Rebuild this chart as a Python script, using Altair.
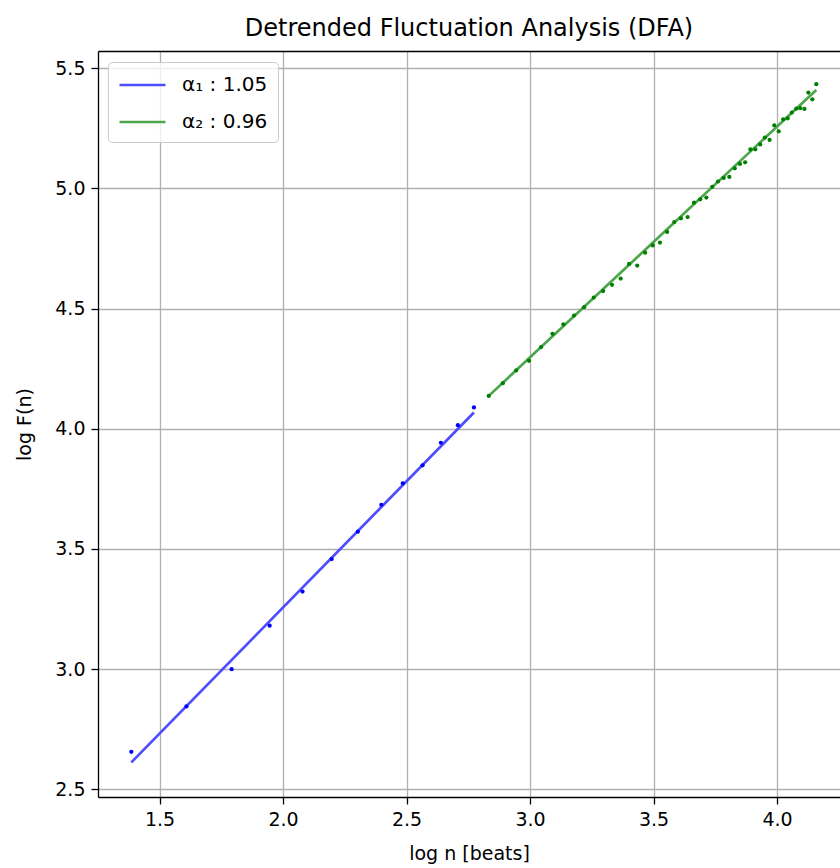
import altair as alt
import pandas as pd

# ---- data ----
blue_x = [1.386, 1.609, 1.792, 1.946, 2.079, 2.197, 2.303, 2.398, 2.485, 2.565, 2.639, 2.708, 2.773]
blue_y = [2.656, 2.845, 3.000, 3.181, 3.323, 3.458, 3.572, 3.684, 3.773, 3.848, 3.942, 4.015, 4.089]

green_x = [2.833, 2.890, 2.944, 2.996, 3.045, 3.091, 3.135, 3.178, 3.219, 3.258,
           3.296, 3.332, 3.367, 3.401, 3.434, 3.466, 3.497, 3.526, 3.555, 3.584,
           3.611, 3.638, 3.664, 3.689, 3.714, 3.738, 3.761, 3.784, 3.807, 3.829,
           3.850, 3.871, 3.892, 3.912, 3.932, 3.951, 3.970, 3.989, 4.007, 4.025,
           4.043, 4.060, 4.078, 4.094, 4.111, 4.127, 4.143, 4.159]
green_y = [4.137, 4.190, 4.243, 4.283, 4.340, 4.395, 4.435, 4.471, 4.506, 4.546,
           4.573, 4.599, 4.625, 4.686, 4.679, 4.733, 4.763, 4.775, 4.819, 4.860,
           4.876, 4.881, 4.941, 4.955, 4.962, 5.007, 5.029, 5.044, 5.048, 5.084,
           5.102, 5.109, 5.163, 5.163, 5.183, 5.212, 5.202, 5.263, 5.238, 5.288,
           5.292, 5.316, 5.332, 5.334, 5.331, 5.399, 5.371, 5.434]

fit1_x = [1.386, 2.773]
fit1_y = [2.612, 4.068]
fit2_x = [2.833, 4.159]
fit2_y = [4.137, 5.410]

labels = ["α₁ : 1.05", "α₂ : 0.96"]
line_colors = ["#4d4dff", "#4da64d"]
x_ticks = [1.5, 2.0, 2.5, 3.0, 3.5, 4.0]
y_ticks = [2.5, 3.0, 3.5, 4.0, 4.5, 5.0, 5.5]

blue_df = pd.DataFrame({"x": blue_x, "y": blue_y})
green_df = pd.DataFrame({"x": green_x, "y": green_y})
fit_df = pd.concat([
    pd.DataFrame({"x": fit1_x, "y": fit1_y, "series": labels[0]}),
    pd.DataFrame({"x": fit2_x, "y": fit2_y, "series": labels[1]}),
])

xscale = alt.Scale(domain=[1.251, 4.255], nice=False, zero=False)
yscale = alt.Scale(domain=[2.468, 5.572], nice=False, zero=False)

x_enc = alt.X("x:Q", scale=xscale,
              axis=alt.Axis(values=x_ticks, format=".1f", title="log n [beats]",
                            titlePadding=15))
y_enc = alt.Y("y:Q", scale=yscale,
              axis=alt.Axis(values=y_ticks, format=".1f", title="log F(n)",
                            titlePadding=20))

lines = alt.Chart(fit_df).mark_line(strokeWidth=2.7).encode(
    x=x_enc, y=y_enc,
    color=alt.Color("series:N",
                    scale=alt.Scale(domain=labels, range=line_colors),
                    legend=alt.Legend(title=None, orient="none", legendX=10, legendY=11,
                                      symbolType="M-1,0L3,0", symbolStrokeWidth=2.7,
                                      symbolSize=529, labelFontSize=20,
                                      labelFont="DejaVu Sans", labelColor="black",
                                      labelOffset=38, rowPadding=14, padding=10,
                                      fillColor="rgba(255,255,255,0.8)",
                                      strokeColor="#cccccc", cornerRadius=4)),
    detail="series:N",
)

blue_pts = alt.Chart(blue_df).mark_circle(size=18, opacity=1, color="#0000ff").encode(
    x=alt.X("x:Q", scale=xscale, axis=None), y=y_enc)
green_pts = alt.Chart(green_df).mark_circle(size=18, opacity=1, color="#008000").encode(
    x=alt.X("x:Q", scale=xscale, axis=None), y=y_enc)

top_spine = alt.Chart(blue_df).mark_point(opacity=0).encode(
    x=alt.X("x:Q", scale=xscale,
            axis=alt.Axis(orient="top", labels=False, ticks=False, grid=False,
                          domain=True, title=None)),
    y=y_enc)

chart = alt.layer(lines, blue_pts, green_pts, top_spine).resolve_axis(
    x="independent"
).properties(
    width=742, height=746,
    autosize="none",
    padding={"left": 98, "top": 51, "right": 0, "bottom": 71},
    title=alt.TitleParams("Detrended Fluctuation Analysis (DFA)", fontSize=24,
                          font="DejaVu Sans", fontWeight="normal", anchor="middle",
                          offset=10, color="black"),
).configure_view(stroke=None).configure_axis(
    gridColor="#b0b0b0", gridWidth=1.3, gridOpacity=1,
    domainColor="black", domainWidth=1.3,
    tickColor="black", tickWidth=1.3, tickSize=7,
    labelFont="DejaVu Sans", labelFontSize=19, labelColor="black", labelPadding=6,
    titleFont="DejaVu Sans", titleFontSize=19, titleFontWeight="normal", titleColor="black",
)

chart.save("out.html", embed_options={"renderer": "svg", "actions": False})
